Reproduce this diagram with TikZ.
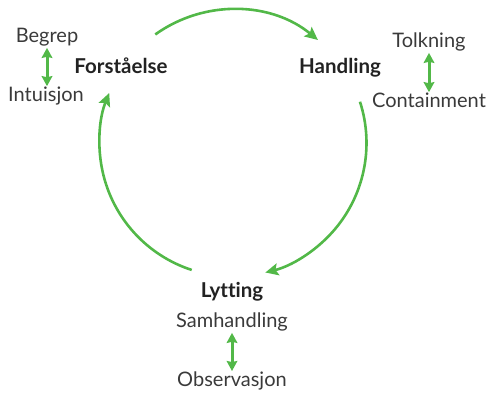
\documentclass[tikz,border=0pt]{standalone}
\usepackage{fontspec}
\setmainfont{Lato}[Ligatures=NoCommon]
\usetikzlibrary{arrows.meta,calc}
\definecolor{cgreen}{HTML}{52B848}
\definecolor{ctext}{HTML}{3A3A3A}
\definecolor{cbold}{HTML}{222222}
\begin{document}
\begin{tikzpicture}[x=1pt,y=1pt,
  lbl/.style={anchor=base,inner sep=1pt,text=ctext,font=\fontsize{20}{24}\selectfont},
  hd/.style={anchor=base,inner sep=1pt,text=cbold,font=\fontsize{20.5}{24}\selectfont\bfseries},
  cyc/.style={draw=cgreen,line width=2.6pt,-{Stealth[length=13pt,width=12pt,inset=2.5pt]}},
  dbl/.style={draw=cgreen,line width=3pt,{Stealth[length=10pt,width=10.5pt,inset=1pt]}-{Stealth[length=10pt,width=10.5pt,inset=1pt]}}]
\useasboundingbox (0,0) rectangle (488,393);
\coordinate (c) at (233,250);
% labels
\node[lbl] (begrep) at (47,350) {Begrep};
\node[lbl] (intuisjon) at (46,291) {Intuisjon};
\node[hd] (forst) at (121,319) {Forståelse};
\node[hd] (handling) at (340,319) {Handling};
\node[lbl] (tolkning) at (429,345) {Tolkning};
\node[lbl] (contain) at (429,285) {Containment};
\node[hd] (lytting) at (232,95) {Lytting};
\node[lbl] (samh) at (232,65) {Samhandling};
\node[lbl] (obs) at (232,6) {Observasjon};
% cycle arcs
\coordinate (s1) at ($(c)+(125.6:133.5)$);
\coordinate (s2) at ($(c)+(18:133.5)$);
\coordinate (s3) at ($(c)+(-108:133.5)$);
\draw[cyc] (s1) arc[start angle=125.6,end angle=50.5,radius=133.5];
\draw[cyc] (s2) arc[start angle=18,end angle=-76,radius=133.5];
\draw[cyc] (s3) arc[start angle=-108,end angle=-202,radius=133.5];
% double arrows
\draw[dbl] (begrep.south) -- (begrep.south |- intuisjon.north);
\draw[dbl] (tolkning.south) -- (tolkning.south |- contain.north);
\draw[dbl] (samh.south) -- (samh.south |- obs.north);
\end{tikzpicture}
\end{document}
